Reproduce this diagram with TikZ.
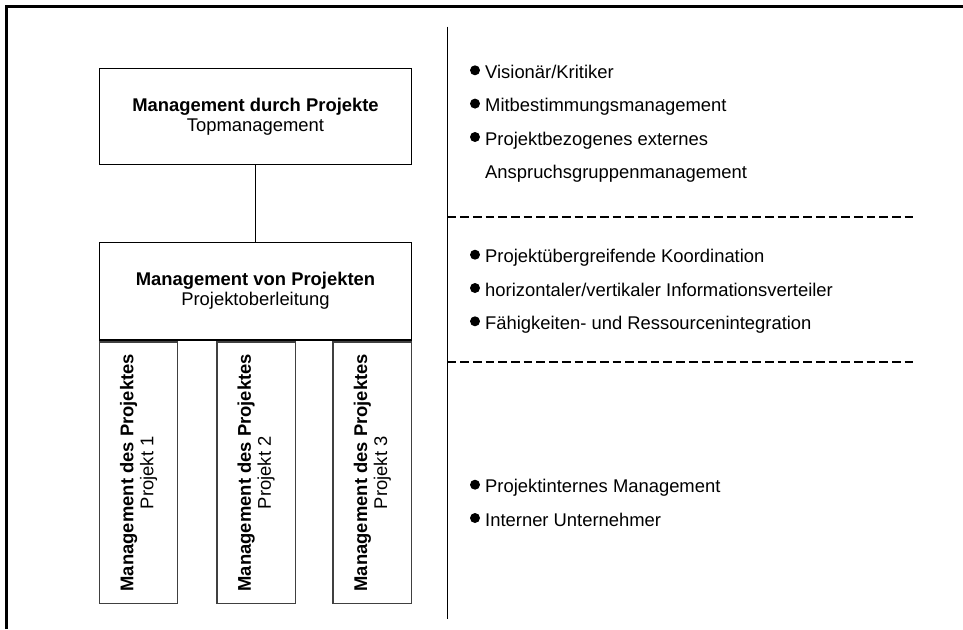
\documentclass[tikz,border=0pt]{standalone}
\usepackage{fontspec}
\setmainfont{Liberation Sans}
\begin{document}
\begin{tikzpicture}[x=1pt,y=-1pt,
  fnt/.style={font=\fontsize{18.4}{20}\selectfont},
  hbox/.style={draw=black, line width=1.2pt, fnt, align=center, inner sep=0pt,
    minimum width=312.4pt, minimum height=#1},
  vbox/.style={draw=black!75, line width=1.3pt, fnt, align=center, inner sep=0pt,
    rotate=90, minimum width=261.3pt, minimum height=78.4pt},
  txt/.style={anchor=base west, inner sep=0pt, fnt},
  bul/.style={fill=black},
  sep/.style={line width=2.4pt, dash pattern=on 8.7pt off 4pt},
  frame/.style={line width=2.6pt}]
\useasboundingbox (0,0) rectangle (963,629);
% outer frame (top and left only)
\draw[frame] (6.7,629) -- (6.7,6.7) -- (963,6.7);
% left side boxes
\node[hbox=96pt] (top) at (255.5,116.3) {\textbf{Management durch Projekte}\\Topmanagement};
\node[hbox=97.7pt] (mid) at (255.5,291.2) {\textbf{Management von Projekten}\\Projektoberleitung};
\node[vbox] (p1) at (138.5,472.7) {\textbf{Management des Projektes}\\Projekt 1};
\node[vbox] (p2) at (256.2,472.7) {\textbf{Management des Projektes}\\Projekt 2};
\node[vbox] (p3) at (372.3,472.7) {\textbf{Management des Projektes}\\Projekt 3};
\draw[line width=1.2pt] (top.south) -- (mid.north);
% divider lines
\coordinate (dtop) at (447.5,26.7);
\coordinate (dbot) at (447.5,619);
\draw[line width=1.2pt] (dtop) -- (dbot);
\coordinate (s1a) at (447.5,216.7);
\coordinate (s1b) at (916.7,216.7);
\coordinate (s2a) at (447.5,361.7);
\coordinate (s2b) at (916.7,361.7);
\draw[sep] (s1a) -- (s1b);
\draw[sep] (s2a) -- (s2b);
% bullet texts
\node[txt] (a1) at (485,78.3) {Visionär/Kritiker};
\node[txt] (a2) at (485,111.6) {Mitbestimmungsmanagement};
\node[txt] (a3) at (485,145) {Projektbezogenes externes};
\node[txt] (a4) at (485,178.3) {Anspruchsgruppenmanagement};
\node[txt] (b1) at (485,262.7) {Projektübergreifende Koordination};
\node[txt] (b2) at (485,296) {horizontaler/vertikaler Informationsverteiler};
\node[txt] (b3) at (485,329.3) {Fähigkeiten- und Ressourcenintegration};
\node[txt] (c1) at (485,492.7) {Projektinternes Management};
\node[txt] (c2) at (485,526) {Interner Unternehmer};
\foreach \yy in {78.3,111.6,145,262.7,296,329.3,492.7,526}
  \fill[bul] (475,\yy-8) circle (5pt);
\end{tikzpicture}
\end{document}
